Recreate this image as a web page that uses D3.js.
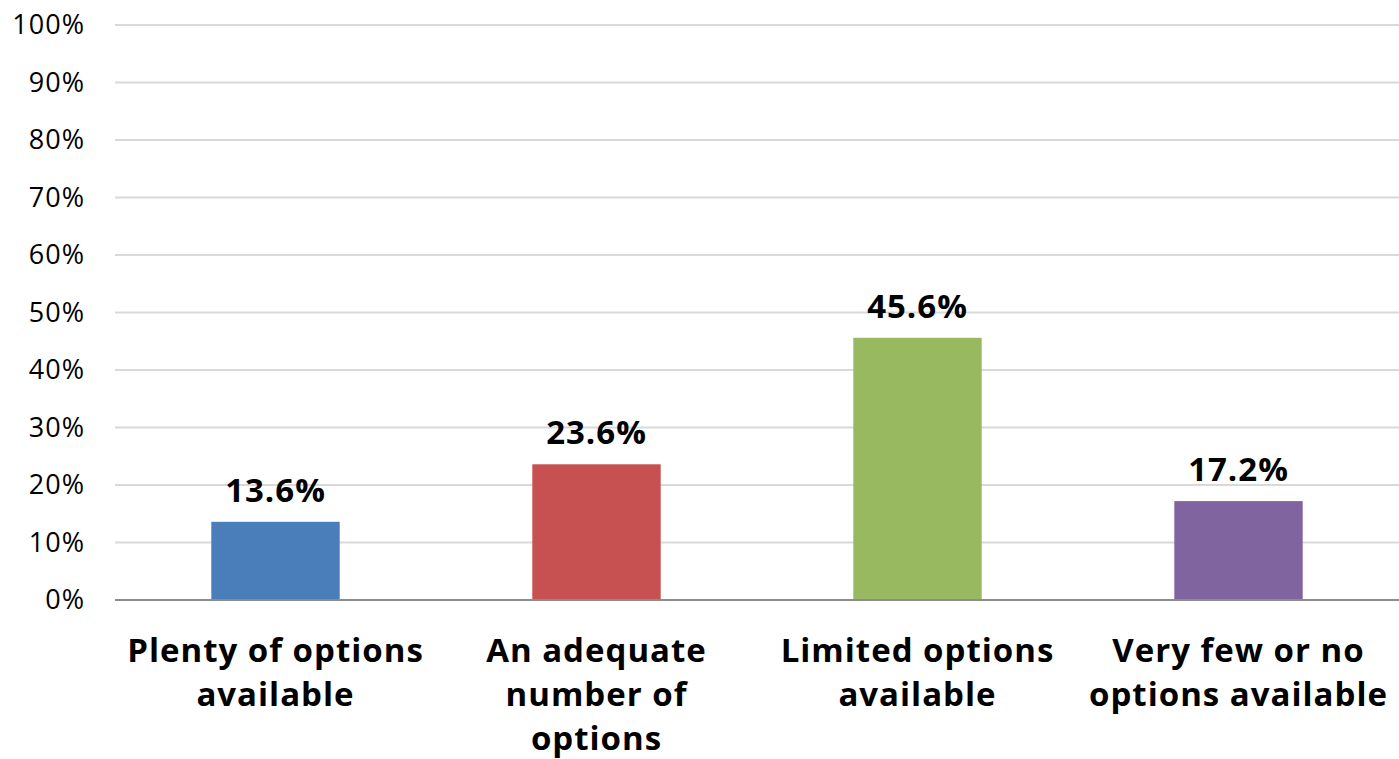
<!DOCTYPE html>
<html>
<head>
<meta charset="utf-8">
<script src="https://cdn.jsdelivr.net/npm/d3@7"></script>
<style>
  html, body { margin: 0; padding: 0; background: #ffffff; }
  svg { display: block; font-family: "Century Gothic", "Open Sans", "DejaVu Sans", sans-serif; }
</style>
</head>
<body>
<svg id="chart" width="1399" height="759"></svg>
<script>
// Survey responses: availability of options
const categories = [
  ["Plenty of options", "available"],
  ["An adequate", "number of", "options"],
  ["Limited options", "available"],
  ["Very few or no", "options available"]
];
const values = [13.6, 23.6, 45.6, 17.2];
const barColors = ["#4a7ebb", "#c65150", "#98b95f", "#8064a0"];
const yTicks = [0, 10, 20, 30, 40, 50, 60, 70, 80, 90, 100];

const svg = d3.select("#chart");
const margin = { left: 115, right: 0, top: 25, bottom: 159 };
const width = 1399, height = 759;

const x = d3.scaleBand()
  .domain(d3.range(categories.length))
  .range([margin.left, width - margin.right])
  .padding(0);

const y = d3.scaleLinear()
  .domain([0, 100])
  .range([height - margin.bottom, margin.top]);

// Horizontal gridlines
svg.append("g")
  .selectAll("line")
  .data(yTicks.filter(t => t > 0))
  .join("line")
  .attr("x1", margin.left)
  .attr("x2", width - margin.right)
  .attr("y1", d => y(d))
  .attr("y2", d => y(d))
  .attr("stroke", "#d9d9d9")
  .attr("stroke-width", 2);

// Y axis labels
const yAxis = d3.axisLeft(y)
  .tickValues(yTicks)
  .tickFormat(d => d + "%")
  .tickSize(0)
  .tickPadding(30);
const yg = svg.append("g")
  .attr("transform", `translate(${margin.left},0)`)
  .call(yAxis);
yg.select(".domain").remove();
yg.selectAll("text")
  .attr("font-size", 27)
  .attr("letter-spacing", 1)
  .attr("fill", "#000")
  .attr("font-family", "'Century Gothic', 'Open Sans', sans-serif");

// Bars
const barW = x.bandwidth() * 0.4;
svg.append("g")
  .selectAll("rect")
  .data(values)
  .join("rect")
  .attr("x", (d, i) => x(i) + (x.bandwidth() - barW) / 2)
  .attr("width", barW)
  .attr("y", d => y(d))
  .attr("height", d => y(0) - y(d))
  .attr("fill", (d, i) => barColors[i]);

// Baseline
svg.append("line")
  .attr("x1", margin.left)
  .attr("x2", width - margin.right)
  .attr("y1", y(0))
  .attr("y2", y(0))
  .attr("stroke", "#8c8c8c")
  .attr("stroke-width", 2);

// Value labels
svg.append("g")
  .selectAll("text")
  .data(values)
  .join("text")
  .attr("x", (d, i) => x(i) + x.bandwidth() / 2)
  .attr("y", d => y(d) - 20)
  .attr("text-anchor", "middle")
  .attr("font-size", 33)
  .attr("letter-spacing", 1)
  .attr("font-weight", "bold")
  .attr("fill", "#000")
  .text(d => d.toFixed(1) + "%");

// Category labels (multi-line)
const cat = svg.append("g")
  .selectAll("text")
  .data(categories)
  .join("text")
  .attr("x", (d, i) => x(i) + x.bandwidth() / 2)
  .attr("y", 662)
  .attr("text-anchor", "middle")
  .attr("font-size", 33)
  .attr("letter-spacing", 1)
  .attr("font-weight", "bold")
  .attr("fill", "#000");
cat.selectAll("tspan")
  .data(d => d)
  .join("tspan")
  .attr("x", function () { return d3.select(this.parentNode).attr("x"); })
  .attr("dy", (d, i) => i === 0 ? 0 : 44)
  .text(d => d);
</script>
</body>
</html>
